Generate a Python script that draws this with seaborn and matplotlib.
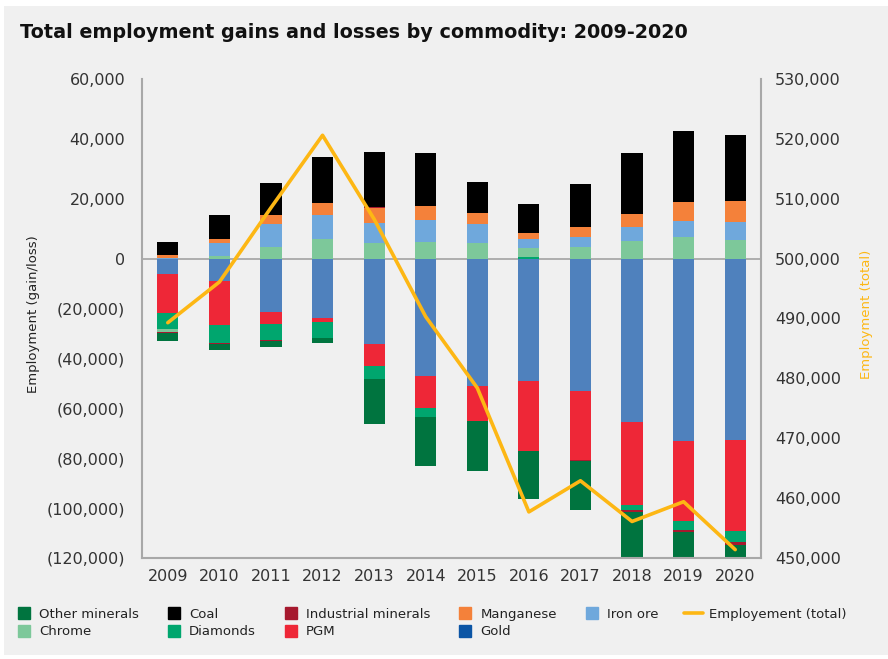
import numpy as np
import pandas as pd
import matplotlib
matplotlib.use('Agg')
import matplotlib.pyplot as plt
from matplotlib.lines import Line2D
from matplotlib.patches import Rectangle
from matplotlib.ticker import FuncFormatter, FixedLocator
import seaborn as sns

# Data (employment gain/loss by commodity)
years = ['2009', '2010', '2011', '2012', '2013', '2014',
         '2015', '2016', '2017', '2018', '2019', '2020']
gold = [-6000, -8800, -21200, -23600, -34400, -47200, -51200, -49200, -53200, -65600, -73200, -72800]
pgm = [-15600, -18000, -5200, -2000, -8800, -12800, -14000, -28000, -27600, -33200, -32000, -36400]
diamonds = [-6800, -7200, -6400, -6400, -5200, -3600, 0, 700, 0, -2000, -3600, -4400]
chrome = [-1200, 1000, 4000, 6700, 5300, 5700, 5300, 2700, 4000, 6000, 7300, 6300]
industrial = [-400, -400, -400, 0, 300, 0, 0, 0, -400, -800, -800, -1200]
other = [-3200, -2400, -2400, -2000, -18000, -19600, -20000, -19200, -19600, -22000, -14000, -8000]
iron_ore = [300, 4300, 7700, 8000, 6700, 7300, 6300, 3000, 3300, 4700, 5300, 6000]
manganese = [1000, 1300, 3000, 4000, 5000, 4700, 3700, 2000, 3300, 4300, 6300, 7000]
coal = [4200, 8000, 10700, 15300, 18300, 17700, 10300, 10000, 14300, 20300, 23700, 22000]
employment = [489300, 496100, 508500, 520600, 506600, 490300,
              478400, 457700, 462900, 456100, 459400, 451400]

colors = {
    'Other minerals': '#00743F',
    'Chrome': '#7DC89A',
    'Coal': '#000000',
    'Diamonds': '#00A66E',
    'Industrial minerals': '#A6192E',
    'PGM': '#EE2737',
    'Manganese': '#F4813A',
    'Gold': '#4F81BD',
    'Iron ore': '#6FA8DC',
}
gold_legend = '#0B55A5'
line_color = '#FDB714'
bg = '#F0F0F0'
grey = '#A8A8A8'
txt = '#333333'

df = pd.DataFrame({
    'Gold': gold, 'PGM': pgm, 'Diamonds': diamonds, 'Chrome': chrome,
    'Industrial minerals': industrial, 'Other minerals': other,
    'Iron ore': iron_ore, 'Manganese': manganese, 'Coal': coal,
}, index=years)

pos_order = ['Diamonds', 'Chrome', 'Iron ore', 'Manganese', 'Industrial minerals', 'Coal']
neg_order = ['Gold', 'PGM', 'Diamonds', 'Chrome', 'Industrial minerals', 'Other minerals']
pos = df.clip(lower=0)
neg = df.clip(upper=0)

sns.set_theme(style='white')
plt.rcParams['font.family'] = ['DejaVu Sans']

fig = plt.figure(figsize=(8.88, 6.59), dpi=100, facecolor='white')
fig.patches.append(Rectangle((4 / 888, 4 / 659), 1, 1 - 10 / 659, transform=fig.transFigure,
                             facecolor=bg, edgecolor='none', zorder=-10))
ax = fig.add_axes([142 / 888, 1 - 558 / 659, (761 - 142) / 888, (558 - 79) / 659])
ax.set_facecolor(bg)

# Stacked bars: gains upward, losses downward
base = np.zeros(len(years))
for name in pos_order:
    sns.barplot(x=years, y=pos[name].values, bottom=base, color=colors[name], saturation=1,
                width=0.41, errorbar=None, linewidth=0, ax=ax)
    base = base + pos[name].values
base = np.zeros(len(years))
for name in neg_order:
    sns.barplot(x=years, y=neg[name].values, bottom=base, color=colors[name], saturation=1,
                width=0.41, errorbar=None, linewidth=0, ax=ax)
    base = base + neg[name].values

# The gain/loss axis is stretched differently above and below zero in the original
def fwd(v):
    v = np.asarray(v, dtype=float)
    return np.where(v >= 0, v * 3.0, v * 2.5)

def inv(v):
    v = np.asarray(v, dtype=float)
    return np.where(v >= 0, v / 3.0, v / 2.5)

ax.set_yscale('function', functions=(fwd, inv))
ax.set_ylim(-120000, 60000)
ax.set_xlim(-0.5, len(years) - 0.5)
ax.yaxis.set_major_locator(FixedLocator(np.arange(-120000, 60001, 20000)))
ax.yaxis.set_major_formatter(FuncFormatter(
    lambda v, p: f'({abs(v):,.0f})' if v < 0 else f'{v:,.0f}'))
ax.axhline(0, color=grey, linewidth=1.3, zorder=0.5)
ax.set_xlabel('')
ax.set_ylabel('')
ax.tick_params(axis='both', length=0, labelsize=11.5, colors=txt)
ax.tick_params(axis='x', pad=8)
ax.tick_params(axis='y', pad=12)

for s in ['top', 'right']:
    ax.spines[s].set_visible(False)
for s in ['left', 'bottom']:
    ax.spines[s].set_color(grey)
    ax.spines[s].set_linewidth(1.5)

# Total employment line on the right axis
ax2 = ax.twinx()
sns.lineplot(x=np.arange(len(years)), y=employment, color=line_color, linewidth=2.6, ax=ax2)
ax2.set_ylim(450000, 530000)
ax2.set_yticks(np.arange(450000, 530001, 10000))
ax2.yaxis.set_major_formatter(FuncFormatter(lambda v, p: f'{v:,.0f}'))
ax2.tick_params(axis='y', length=0, labelsize=11.5, colors=txt, pad=10)
ax2.set_ylabel('')
for s in ['top', 'left', 'bottom']:
    ax2.spines[s].set_visible(False)
ax2.spines['right'].set_color(grey)
ax2.spines['right'].set_linewidth(1.5)

fig.text(20 / 888, 1 - 32 / 659, 'Total employment gains and losses by commodity: 2009-2020',
         fontsize=13.8, fontweight='bold', color='#111111', va='center', ha='left')
fig.text(33 / 888, 1 - 314 / 659, 'Employment (gain/loss)', rotation=90, fontsize=9.5,
         color='#222222', ha='center', va='center')
fig.text(866 / 888, 1 - 314 / 659, 'Employment (total)', rotation=90, fontsize=9.5,
         color=line_color, ha='center', va='center')

# Legend (column order as in the original)
def sq(c):
    return Line2D([], [], marker='s', linestyle='none', markersize=9, color=c)

blank = Line2D([], [], linestyle='none')
handles = [sq(colors['Other minerals']), sq(colors['Chrome']),
           sq(colors['Coal']), sq(colors['Diamonds']),
           sq(colors['Industrial minerals']), sq(colors['PGM']),
           sq(colors['Manganese']), sq(gold_legend),
           sq(colors['Iron ore']), blank,
           Line2D([], [], color=line_color, linewidth=2.6), blank]
labels = ['Other minerals', 'Chrome', 'Coal', 'Diamonds', 'Industrial minerals', 'PGM',
          'Manganese', 'Gold', 'Iron ore', '', 'Employement (total)', '']
fig.legend(handles, labels, ncol=6, loc='center left', bbox_to_anchor=(2 / 888, 1 - 623 / 659),
           frameon=False, fontsize=9.5, handlelength=1.5, handletextpad=0.4,
           columnspacing=1.9, labelspacing=0.35, labelcolor='#222222')

fig.savefig('out.png', dpi=100, facecolor='white')
